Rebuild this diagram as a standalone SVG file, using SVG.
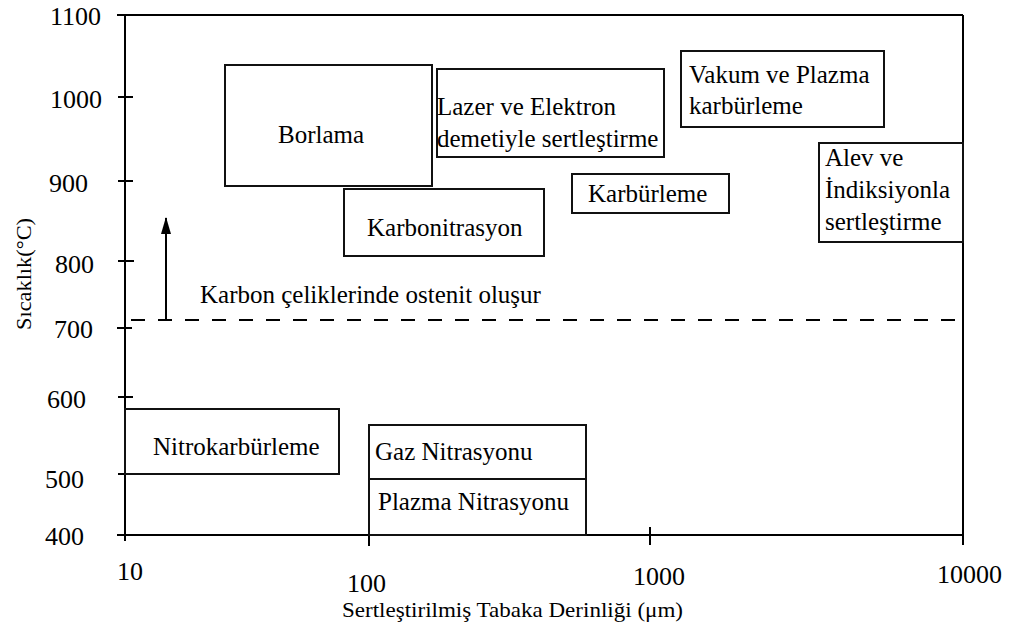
<svg xmlns="http://www.w3.org/2000/svg" width="1009" height="630" viewBox="0 0 1009 630">
<style>
  .ax { stroke:#000; stroke-width:2; fill:none; }
  .box { stroke:#111; stroke-width:2; fill:none; }
  text { font-family:'Liberation Serif','DejaVu Serif',serif; fill:#000; }
  .lbl { font-size:25px; }
  .tick { font-size:26px; }
  .title { font-size:22px; }
</style>
<defs>
  <marker id="ah" viewBox="0 0 17 10" refX="16" refY="5" markerWidth="17" markerHeight="10" markerUnits="userSpaceOnUse" orient="auto">
    <path d="M0,0 L17,5 L0,10 Z" fill="#000"/>
  </marker>
</defs>
<rect width="1009" height="630" fill="#fff"/>
<g id="axes">
  <path class="ax" d="M125,15 V541 M117,15 H963 M117,535 H963 M963,15 V545"/>
  <path class="ax" d="M118,97 H133 M118,181 H133 M118,261 H134 M117,328 H132 M118,397 H133 M118,474 H133"/>
  <path class="ax" d="M369,535 V546 M650,527 V545"/>
  <g class="tick">
    <text x="50" y="25">1100</text>
    <text x="50" y="108">1000</text>
    <text x="49" y="192">900</text>
    <text x="55" y="273">800</text>
    <text x="54" y="338">700</text>
    <text x="47" y="408">600</text>
    <text x="45" y="488">500</text>
    <text x="45" y="545">400</text>
    <text x="117" y="580">10</text>
    <text x="347" y="592">100</text>
    <text x="633" y="585">1000</text>
    <text x="937" y="583">10000</text>
  </g>
  <text class="title" x="342" y="617" textLength="341" lengthAdjust="spacingAndGlyphs">Sertleştirilmiş Tabaka Derinliği (μm)</text>
  <text class="title" transform="translate(31,330) rotate(-90)" x="0" y="0" textLength="112" lengthAdjust="spacingAndGlyphs">Sıcaklık(°C)</text>
</g>
<g id="connectors">
  <line class="ax" x1="131" y1="320" x2="963" y2="320" stroke-dasharray="14 13"/>
  <line class="ax" x1="166" y1="320" x2="166" y2="218" marker-end="url(#ah)"/>
</g>
<g id="borlama">
  <rect class="box" x="225" y="65" width="207" height="121"/>
  <text class="lbl" x="278" y="143">Borlama</text>
</g>
<g id="lazer">
  <rect class="box" x="437" y="69" width="227" height="88"/>
  <text class="lbl" x="437" y="115">Lazer ve Elektron</text>
  <text class="lbl" x="437" y="147">demetiyle sertleştirme</text>
</g>
<g id="vakum">
  <rect class="box" x="681" y="51" width="203" height="76"/>
  <text class="lbl" x="689" y="83">Vakum ve Plazma</text>
  <text class="lbl" x="689" y="114">karbürleme</text>
</g>
<g id="alev">
  <rect class="box" x="819" y="143" width="144" height="99"/>
  <text class="lbl" x="825" y="166">Alev ve</text>
  <text class="lbl" x="825" y="198">İndiksiyonla</text>
  <text class="lbl" x="825" y="230">sertleştirme</text>
</g>
<g id="karbonitrasyon">
  <rect class="box" x="344" y="189" width="200" height="67"/>
  <text class="lbl" x="367" y="236">Karbonitrasyon</text>
</g>
<g id="karburleme">
  <rect class="box" x="572" y="174" width="157" height="39"/>
  <text class="lbl" x="588" y="202">Karbürleme</text>
</g>
<g id="ostenit">
  <text class="lbl" x="200" y="303">Karbon çeliklerinde ostenit oluşur</text>
</g>
<g id="nitrokarburleme">
  <rect class="box" x="125" y="409" width="214" height="65"/>
  <text class="lbl" x="153" y="455">Nitrokarbürleme</text>
</g>
<g id="gaz">
  <rect class="box" x="369" y="425" width="217" height="54"/>
  <text class="lbl" x="375" y="460">Gaz Nitrasyonu</text>
</g>
<g id="plazma">
  <rect class="box" x="369" y="479" width="217" height="56"/>
  <text class="lbl" x="378" y="510">Plazma Nitrasyonu</text>
</g>
</svg>
